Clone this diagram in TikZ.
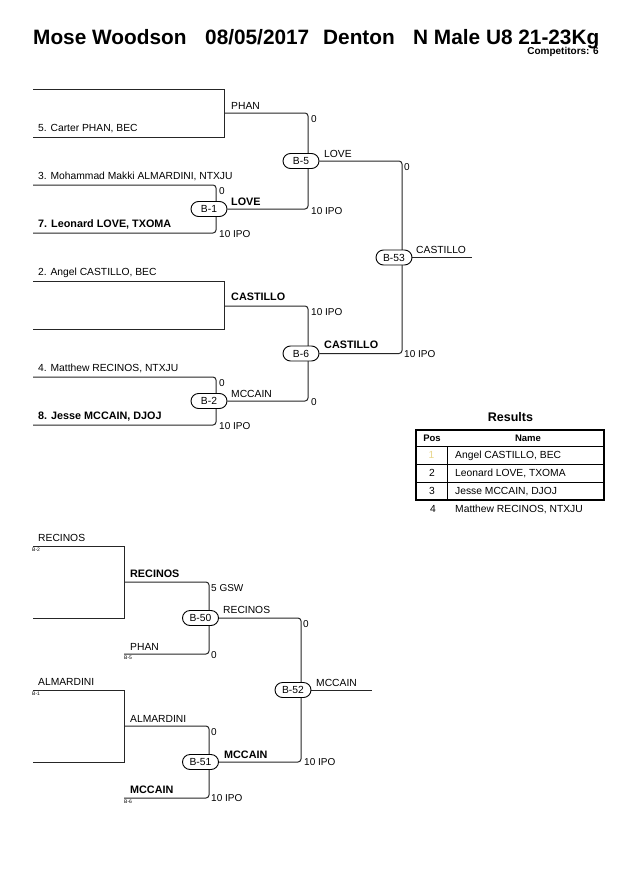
\documentclass[tikz,border=0pt]{standalone}
\usepackage{fontspec}
\setmainfont{Liberation Sans}
\pgfdeclarelayer{paper}
\pgfdeclarelayer{bg}
\pgfsetlayers{paper,bg,main}
\newcommand{\fReg}{\fontsize{10.3}{12}\selectfont}
\newcommand{\fBld}{\fontsize{10.8}{12}\selectfont\bfseries}
\newcommand{\fSc}{\fontsize{10}{12}\selectfont}
\newcommand{\fTag}{\fontsize{5}{5}\selectfont}
\newcommand{\fTitle}{\fontsize{20.8}{24}\selectfont\bfseries}
\definecolor{posone}{RGB}{232,214,140}
\begin{document}
\begin{tikzpicture}[x=1pt,y=-1pt,
  lbl/.style={inner sep=0, anchor=base west, font=\fReg},
  lblb/.style={inner sep=0, anchor=base west, font=\fBld},
  scup/.style={inner sep=0, anchor=north west, font=\fSc},
  scdn/.style={inner sep=0, anchor=west, font=\fSc},
  tagtxt/.style={inner sep=0, anchor=north west, font=\fTag},
  pill/.style={draw, line width=0.9pt, fill=white, rounded corners=7.5pt, minimum width=36pt, minimum height=15pt, inner sep=0, font=\fReg},
  wire/.style={line width=1pt, black!85},
  rc/.style={rounded corners=3pt},
  thick box/.style={line width=2pt},
  tline/.style={line width=1pt}]
\begin{pgfonlayer}{paper}
\fill[white] (0,0) rectangle (630,891);
\end{pgfonlayer}
\useasboundingbox (0,0) rectangle (630,891);

% ---------- title ----------
\node[inner sep=0, anchor=base west, font=\fTitle] (ti1) at (33,45) {Mose Woodson};
\node[inner sep=0, anchor=base west, font=\fTitle] (ti2) at (205,45) {08/05/2017};
\node[inner sep=0, anchor=base west, font=\fTitle] (ti3) at (323,45) {Denton};
\node[inner sep=0, anchor=base west, font=\fTitle] (ti4) at (413,45) {N Male U8 21-23Kg};
\node[inner sep=0, anchor=base east, font=\fontsize{10}{11}\selectfont\bfseries] (comp) at (599,54.5) {Competitors: 6};

% ---------- main bracket coordinates ----------
\coordinate (c1a) at (33,89);  \coordinate (c1b) at (224,89);
\coordinate (c1c) at (224,137); \coordinate (c1d) at (33,137);
\coordinate (c1o) at (224,113);
\coordinate (v5t) at (308,113); \coordinate (v5b) at (308,209);
\coordinate (c2a) at (33,185); \coordinate (v1t) at (216,185);
\coordinate (v1b) at (216,233); \coordinate (c2d) at (33,233);
\coordinate (v53t) at (402,161); \coordinate (v53b) at (402,353.5);
\coordinate (c3a) at (33,281); \coordinate (c3b) at (224,281);
\coordinate (c3c) at (224,329); \coordinate (c3d) at (33,329);
\coordinate (c3o) at (224,306);
\coordinate (v6t) at (308,306); \coordinate (v6b) at (308,401);
\coordinate (c4a) at (33,377); \coordinate (v2t) at (216,377);
\coordinate (v2b) at (216,425); \coordinate (c4d) at (33,425);
\coordinate (e53) at (472,257.5);

% pills
\node[pill] (B1) at (209,209) {B-1};
\node[pill] (B5) at (301,161) {B-5};
\node[pill] (B2) at (209,401) {B-2};
\node[pill] (B6) at (301,353.5) {B-6};
\node[pill] (B53) at (394,257.5) {B-53};

\begin{pgfonlayer}{bg}
\draw[wire] (c1a) -- (c1b) -- (c1c) -- (c1d);
\draw[wire,rc] (c1o) -- (v5t) -- (v5b) -- (B1.east);
\draw[wire,rc] (c2a) -- (v1t) -- (v1b) -- (c2d);
\draw[wire,rc] (B5.east) -- (v53t) -- (v53b) -- (B6.east);
\draw[wire] (c3a) -- (c3b) -- (c3c) -- (c3d);
\draw[wire,rc] (c3o) -- (v6t) -- (v6b) -- (B2.east);
\draw[wire,rc] (c4a) -- (v2t) -- (v2b) -- (c4d);
\draw[wire] (B53.east) -- (e53);
\end{pgfonlayer}

% main labels
\node[lbl] (n5) at (38,131) {5. Carter PHAN, BEC};
\node[lbl] (w1) at (231,109) {PHAN};
\node[scup] (s1) at (311,115) {0};
\node[lbl] (n3) at (38,179) {3. Mohammad Makki ALMARDINI, NTXJU};
\node[scup] (s2) at (219,187) {0};
\node[lblb] (w2) at (231,205) {LOVE};
\node[scdn] (s3) at (311,211) {10 IPO};
\node[lblb] (n7) at (38,227) {7. Leonard LOVE, TXOMA};
\node[scdn] (s4) at (219,234) {10 IPO};
\node[lbl] (w3) at (324,157) {LOVE};
\node[scup] (s5) at (404,163) {0};
\node[lbl] (w4) at (416,253) {CASTILLO};
\node[lbl] (n2) at (38,275) {2. Angel CASTILLO, BEC};
\node[lblb] (w5) at (231,300) {CASTILLO};
\node[scup] (s6) at (311,308) {10 IPO};
\node[lblb] (w6) at (324,348) {CASTILLO};
\node[scdn] (s7) at (404,354.5) {10 IPO};
\node[lbl] (n4) at (38,371) {4. Matthew RECINOS, NTXJU};
\node[scup] (s8) at (219,379) {0};
\node[lbl] (w7) at (231,397) {MCCAIN};
\node[scdn] (s9) at (311,402) {0};
\node[lblb] (n8) at (38,419) {8. Jesse MCCAIN, DJOJ};
\node[scdn] (s10) at (219,426) {10 IPO};

% ---------- results ----------
\node[inner sep=0, anchor=base, font=\fontsize{12.5}{14}\selectfont\bfseries] (res) at (510.5,421.5) {Results};
\coordinate (rtl) at (415.5,429.5); \coordinate (rbr) at (604,500);
\coordinate (h1l) at (415.5,446); \coordinate (h1r) at (604,446);
\coordinate (h2l) at (415.5,464); \coordinate (h2r) at (604,464);
\coordinate (h3l) at (415.5,482); \coordinate (h3r) at (604,482);
\coordinate (dvt) at (447,446); \coordinate (dvb) at (447,500);
\draw[tline] (h1l) -- (h1r);
\draw[tline] (h2l) -- (h2r);
\draw[tline] (h3l) -- (h3r);
\draw[tline] (dvt) -- (dvb);
\draw[thick box] (rtl) rectangle (rbr);
\node[inner sep=0, anchor=base, font=\fontsize{9.5}{11}\selectfont\bfseries] (hp) at (432,441) {Pos};
\node[inner sep=0, anchor=base, font=\fontsize{9.5}{11}\selectfont\bfseries] (hn) at (528,441) {Name};
\node[inner sep=0, anchor=base, font=\fReg, text=posone] (r1p) at (431.5,458.5) {1};
\node[lbl] (r1n) at (455,458.5) {Angel CASTILLO, BEC};
\node[inner sep=0, anchor=base, font=\fReg] (r2p) at (432,476.5) {2};
\node[lbl] (r2n) at (455,476.5) {Leonard LOVE, TXOMA};
\node[inner sep=0, anchor=base, font=\fReg] (r3p) at (432,494.5) {3};
\node[lbl] (r3n) at (455,494.5) {Jesse MCCAIN, DJOJ};
\node[inner sep=0, anchor=base, font=\fReg] (r4p) at (433,512.5) {4};
\node[lbl] (r4n) at (455,512.5) {Matthew RECINOS, NTXJU};

% ---------- repechage ----------
\coordinate (d1a) at (33,546); \coordinate (d1b) at (124,546);
\coordinate (d1c) at (124,618); \coordinate (d1d) at (33,618);
\coordinate (d1o) at (124,582);
\coordinate (v50t) at (209,582); \coordinate (v50b) at (209,654);
\coordinate (d2a) at (124,654);
\coordinate (v52t) at (301,618); \coordinate (v52b) at (301,762);
\coordinate (e52) at (372,690);
\coordinate (d3a) at (33,690); \coordinate (d3b) at (124,690);
\coordinate (d3c) at (124,762); \coordinate (d3d) at (33,762);
\coordinate (d3o) at (124,726);
\coordinate (v51t) at (209,726); \coordinate (v51b) at (209,798);
\coordinate (d4a) at (124,798);

\node[pill] (B50) at (200.5,618) {B-50};
\node[pill] (B52) at (293,690) {B-52};
\node[pill] (B51) at (200.5,762) {B-51};

\begin{pgfonlayer}{bg}
\draw[wire] (d1a) -- (d1b) -- (d1c) -- (d1d);
\draw[wire,rc] (d1o) -- (v50t) -- (v50b) -- (d2a);
\draw[wire,rc] (B50.east) -- (v52t) -- (v52b) -- (B51.east);
\draw[wire] (B52.east) -- (e52);
\draw[wire] (d3a) -- (d3b) -- (d3c) -- (d3d);
\draw[wire,rc] (d3o) -- (v51t) -- (v51b) -- (d4a);
\end{pgfonlayer}

\node[lbl] (q1) at (38,541) {RECINOS};
\node[tagtxt] (t1) at (32,547.5) {B-2};
\node[lblb] (q2) at (130,577) {RECINOS};
\node[scup] (q3) at (211,584) {5 GSW};
\node[lbl] (q4) at (223,613) {RECINOS};
\node[scup] (q5) at (303,620) {0};
\node[lbl] (q6) at (130,650) {PHAN};
\node[tagtxt] (t2) at (124,655.5) {B-5};
\node[scdn] (q7) at (211,655) {0};
\node[lbl] (q8) at (316,686) {MCCAIN};
\node[lbl] (q9) at (38,685) {ALMARDINI};
\node[tagtxt] (t3) at (32,691.5) {B-1};
\node[lbl] (q10) at (130,722) {ALMARDINI};
\node[scup] (q11) at (211,728) {0};
\node[lblb] (q12) at (224,758) {MCCAIN};
\node[scdn] (q13) at (304,762.5) {10 IPO};
\node[lblb] (q14) at (130,793) {MCCAIN};
\node[tagtxt] (t4) at (124,799.5) {B-6};
\node[scdn] (q15) at (211,798.5) {10 IPO};
\end{tikzpicture}
\end{document}
